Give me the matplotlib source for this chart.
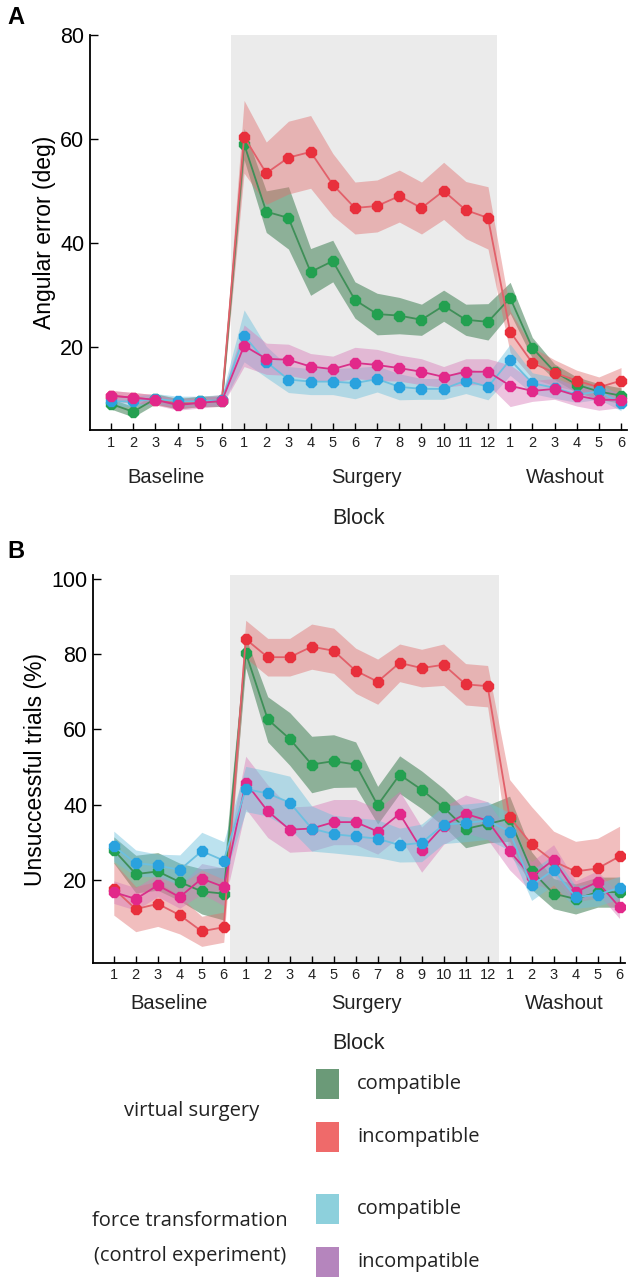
import numpy as np
import matplotlib.pyplot as plt
from matplotlib.patches import Rectangle
import matplotlib.transforms as mtransforms

plt.rcParams['font.family'] = ['Liberation Sans', 'DejaVu Sans']

# block layout: 6 baseline, 12 surgery, 6 washout
tick_labels = [str(i) for i in range(1, 7)] + [str(i) for i in range(1, 13)] + [str(i) for i in range(1, 7)]
blocks = np.arange(1, 25)
phases = ["Baseline", "Surgery", "Washout"]
phase_centers = [3.5, 12.5, 21.5]

# Panel A: angular error (deg), mean and band half-width
a_vc = [9, 7.5, 10, 9, 9.5, 9.5, 59, 46, 44.8, 34.4, 36.5, 29, 26.3, 26, 25.2, 27.9, 25.2, 24.8, 29.4, 19.8, 15.2, 12.7, 11.4, 10.6]
a_vc_err = [1, 1, 1, 1, 1, 1, 3, 4, 6, 4.5, 4, 3.5, 4, 3.5, 3, 3, 3, 3.5, 3, 2, 1.5, 1.5, 1.5, 1.5]
a_vi = [10.6, 10.2, 9.8, 9.2, 9.4, 9.8, 60.4, 53.4, 56.4, 57.5, 51.2, 46.7, 47.1, 49, 46.7, 50, 46.3, 44.8, 22.9, 16.9, 15, 13.5, 12.2, 13.5]
a_vi_err = [1, 1, 1, 1, 1, 1, 7, 6, 7, 7, 6, 5, 5, 5, 5, 5.5, 5.5, 6, 4, 3, 2.5, 2, 2, 2.5]
a_fc = [9.5, 9.5, 10, 9.5, 9.5, 9.8, 22.1, 17.1, 13.7, 13.3, 13.3, 13, 13.8, 12.3, 11.9, 11.9, 13.5, 12.3, 17.5, 13, 12.1, 10.8, 11.4, 9.2]
a_fc_err = [1, 1, 1, 1, 1, 1, 5, 3, 2.5, 2.5, 2.5, 3, 2.5, 2.5, 2, 2, 2.5, 2.5, 3, 2, 2, 1.5, 1.5, 1.5]
a_fi = [10.6, 10.2, 9.8, 8.8, 9.2, 9.6, 20.2, 17.7, 17.5, 16.2, 15.7, 16.9, 16.5, 15.9, 15.2, 14.2, 15.2, 15.2, 12.5, 11.5, 11.9, 10.6, 9.8, 9.8]
a_fi_err = [1, 1, 1, 1, 1, 1, 4, 3, 3, 2.5, 2.5, 3, 3, 2.5, 2.5, 2, 2.5, 2.5, 4, 2, 2, 2, 2, 1.5]

# Panel B: unsuccessful trials (%)
b_vc = [28, 21.6, 22.3, 19.5, 17, 16.4, 80.4, 62.7, 57.5, 50.7, 51.6, 50.7, 39.9, 48, 44, 39.3, 33.6, 34.9, 36.3, 22.5, 16.4, 15, 16.8, 16.8]
b_vc_err = [3.5, 5, 5, 5, 6, 7, 4, 6, 7, 7.5, 7, 6, 5, 5, 5, 5, 5, 5, 6, 5, 4, 4, 4, 4]
b_vi = [17.7, 12.3, 13.7, 10.7, 6.4, 7.5, 84, 79.2, 79.2, 82, 80.9, 75.6, 72.7, 77.7, 76.3, 77.2, 72, 71.5, 36.7, 29.5, 25, 22.3, 23.1, 26.3]
b_vi_err = [7, 6, 6, 5, 4, 4, 5, 5, 5, 6, 6, 6, 6, 5, 5, 5.5, 5.5, 5.5, 10, 10, 8, 8, 8, 8]
b_fc = [29, 24.5, 23.9, 22.7, 27.7, 25.2, 44.2, 43, 40.6, 33.7, 32.2, 31.6, 31, 29.3, 29.9, 34.7, 35.2, 35.8, 32.9, 18.6, 22.7, 15.5, 16.1, 18]
b_fc_err = [4, 3.5, 3, 4, 5, 5, 6, 6, 7, 6, 5, 5, 5, 4.5, 5, 5, 5, 5, 5, 4, 4, 3, 3, 3]
b_fi = [16.8, 15, 18.6, 15.5, 20.4, 18.2, 45.9, 38.3, 33.4, 33.7, 35.4, 35.4, 32.9, 37.6, 28.1, 34.5, 37.6, 35.8, 27.7, 20.9, 25.4, 16.8, 19.5, 12.8]
b_fi_err = [3, 3, 3, 3, 4, 5, 7, 7, 6, 6, 6, 6, 6, 6, 6, 5, 5, 5, 5, 4, 4, 3, 3, 3]

# (line colour, marker colour, band colour, band alpha)
sty = {
    "vc": ("#3f8f58", "#23a050", "#4f8a62", 0.6),
    "vi": ("#e2606a", "#e8303c", "#e07070", 0.45),
    "fc": ("#6cc0e0", "#2aa2de", "#6cc0dc", 0.45),
    "fi": ("#d8308a", "#e2288a", "#d87ab8", 0.45),
}


def draw_panel(ax, series, order, ylim, yticks, ylabel, shade, lab_y=(-0.115, -0.225)):
    ax.axvspan(shade[0], shade[1], color="#ebebeb", zorder=0, lw=0)
    for key, y, e in series:
        y = np.array(y); e = np.array(e)
        ax.fill_between(blocks, y - e, y + e, color=sty[key][2], alpha=sty[key][3], lw=0, zorder=1)
    for z, key in enumerate(order):
        y = dict((k, v) for k, v, _ in series)[key]
        ax.plot(blocks, y, color=sty[key][0], lw=1.3, zorder=3 + z,
                marker="8", ms=8.5, mfc=sty[key][1], mec=sty[key][1])
    ax.set_xlim(0.05, 24.25)
    ax.set_ylim(*ylim)
    ax.set_yticks(yticks)
    ax.set_xticks(blocks)
    ax.set_xticklabels(tick_labels, fontsize=10.5, color="#222222")
    ax.tick_params(axis="x", direction="in", length=5, width=1, pad=4)
    ax.tick_params(axis="y", direction="in", length=6, width=1, labelsize=15.5, pad=4)
    for s in ["top", "right"]:
        ax.spines[s].set_visible(False)
    for s in ["left", "bottom"]:
        ax.spines[s].set_linewidth(1.3)
    ax.set_ylabel(ylabel, fontsize=16.5, labelpad=3)
    trans = mtransforms.blended_transform_factory(ax.transData, ax.transAxes)
    for name, c in zip(phases, phase_centers):
        ax.text(c, lab_y[0], name, transform=trans, ha="center", va="center", fontsize=14.5, color="#222222")
    ax.text(0.5, lab_y[1], "Block", transform=ax.transAxes, ha="center", va="center", fontsize=15.5, color="#222222")


fig = plt.figure(figsize=(6.32, 12.8), dpi=100)

axA = fig.add_axes([0.1424, 0.6641, 0.849, 0.3086])
draw_panel(axA,
           [("vc", a_vc, a_vc_err), ("vi", a_vi, a_vi_err), ("fc", a_fc, a_fc_err), ("fi", a_fi, a_fi_err)],
           ["vc", "vi", "fc", "fi"], (4, 80), [20, 40, 60, 80], "Angular error (deg)", (6.43, 18.4),
           lab_y=(-0.12, -0.225))

axB = fig.add_axes([0.147, 0.2477, 0.842, 0.303])
draw_panel(axB,
           [("vc", b_vc, b_vc_err), ("vi", b_vi, b_vi_err), ("fi", b_fi, b_fi_err), ("fc", b_fc, b_fc_err)],
           ["vc", "vi", "fi", "fc"], (-2, 101), [20, 40, 60, 80, 100], "Unsuccessful trials (%)", (6.3, 18.5),
           lab_y=(-0.105, -0.207))

fig.text(0.012, 0.986, "A", fontsize=17, fontweight="bold", ha="left", va="center")
fig.text(0.012, 0.569, "B", fontsize=17, fontweight="bold", ha="left", va="center")

# legend block at the bottom
W, H = 632.0, 1280.0
leg_font = ["Open Sans", "DejaVu Sans"]
fs = 14.5
fig.text(192 / W, 1 - 1111 / H, "virtual surgery", family=leg_font, fontsize=fs, ha="center", va="center", color="#222222")
fig.text(190 / W, 1 - 1221 / H, "force transformation", family=leg_font, fontsize=fs, ha="center", va="center", color="#222222")
fig.text(190 / W, 1 - 1256 / H, "(control experiment)", family=leg_font, fontsize=fs, ha="center", va="center", color="#222222")
leg_items = [("#6b9a78", "compatible", 1084), ("#ef6a6a", "incompatible", 1137),
             ("#8dd0dc", "compatible", 1209), ("#b585bd", "incompatible", 1262)]
for col, lab, yc in leg_items:
    fig.patches.append(Rectangle((316 / W, 1 - (yc + 15) / H), 23 / W, 30 / H,
                                 transform=fig.transFigure, facecolor=col, edgecolor="none"))
    fig.text(357 / W, 1 - yc / H, lab, family=leg_font, fontsize=fs, ha="left", va="center", color="#222222")

fig.savefig("out.png", dpi=100)
